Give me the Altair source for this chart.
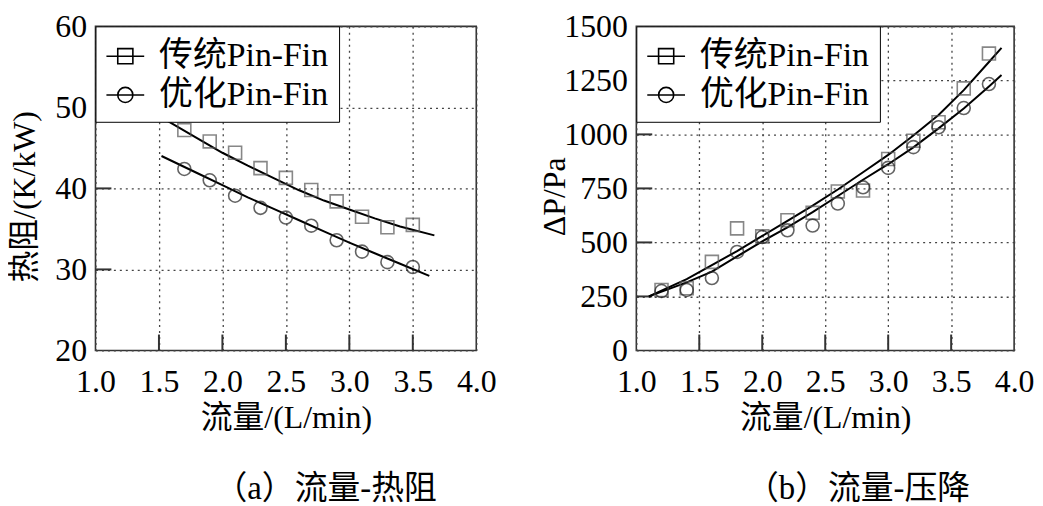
import altair as alt
import pandas as pd

SERIES = ["传统Pin-Fin", "优化Pin-Fin"]

# ---- panel (a): flow vs thermal resistance ----
a_x = [1.7, 1.9, 2.1, 2.3, 2.5, 2.7, 2.9, 3.1, 3.3, 3.5]
a_trad = [47.2, 45.8, 44.4, 42.5, 41.3, 39.8, 38.4, 36.5, 35.2, 35.5]
a_opt = [42.4, 41.0, 39.1, 37.6, 36.4, 35.4, 33.6, 32.2, 30.9, 30.3]
a_fit_x_trad = [1.56, 1.8, 2.0, 2.2, 2.4, 2.6, 2.8, 3.0, 3.2, 3.4, 3.67]
a_fit_trad = [48.4, 46.2, 44.4, 42.8, 41.3, 39.8, 38.5, 37.4, 36.3, 35.3, 34.2]
a_fit_x_opt = [1.52, 1.8, 2.0, 2.2, 2.4, 2.6, 2.8, 3.0, 3.2, 3.4, 3.63]
a_fit_opt = [44.0, 41.9, 40.4, 38.9, 37.5, 36.1, 34.7, 33.3, 32.0, 30.7, 29.2]
a_yticks = [20, 30, 40, 50, 60]

# ---- panel (b): flow vs pressure drop ----
b_x = [1.2, 1.4, 1.6, 1.8, 2.0, 2.2, 2.4, 2.6, 2.8, 3.0, 3.2, 3.4, 3.6, 3.8]
b_trad = [280, 288, 410, 565, 528, 603, 637, 736, 740, 886, 971, 1056, 1213, 1374]
b_opt = [275, 280, 335, 456, 525, 556, 578, 680, 755, 845, 941, 1033, 1122, 1233]
b_fit_x = [1.1, 1.4, 1.6, 1.8, 2.0, 2.2, 2.4, 2.6, 2.8, 3.0, 3.2, 3.4, 3.6, 3.8, 3.9]
b_fit_trad = [250, 330, 395, 460, 530, 600, 670, 745, 825, 905, 995, 1090, 1205, 1335, 1400]
b_fit_opt = [250, 315, 365, 435, 505, 570, 640, 715, 790, 862, 940, 1028, 1120, 1222, 1275]
b_yticks = [0, 250, 500, 750, 1000, 1250, 1500]

x_ticks = [1.0, 1.5, 2.0, 2.5, 3.0, 3.5, 4.0]
inner_x_ticks = [1.5, 2.0, 2.5, 3.0, 3.5]

SERIF = "Liberation Serif, Noto Sans CJK SC"
PATH_SQ = "M-1,0H1M-0.4,-0.4H0.4V0.4H-0.4Z"
PATH_CI = "M-1,0H1M0.4,0A0.4,0.4 0 1,1 -0.4,0A0.4,0.4 0 1,1 0.4,0Z"


def panel(xs, trad, opt, fx_t, ft, fx_o, fo, ydom, yticks, yfmt, ytitle,
          caption, w, h, title_x, cap_dx):
    pts = pd.DataFrame({
        "x": xs + xs,
        "y": trad + opt,
        "s": [SERIES[0]] * len(xs) + [SERIES[1]] * len(xs),
    })
    fit = pd.DataFrame({
        "x": fx_t + fx_o,
        "y": ft + fo,
        "s": [SERIES[0]] * len(fx_t) + [SERIES[1]] * len(fx_o),
    })
    fit["ls"] = fit["s"]
    ytk = pd.DataFrame({"v": yticks[1:-1]})
    xtk = pd.DataFrame({"v": inner_x_ticks})

    xscale = alt.Scale(domain=[1, 4], nice=False, zero=False)
    yscale = alt.Scale(domain=ydom, nice=False, zero=False)
    xaxis = alt.Axis(values=x_ticks, format=".1f", title="流量/(L/min)",
                     grid=True, gridDash=[2, 4], gridColor="#444", gridWidth=1.3,
                     ticks=False, domain=False, labelFont="Liberation Serif",
                     labelFontSize=32, labelColor="black", labelPadding=16,
                     labelFlush=False, labelOverlap=False,
                     titleFont=SERIF, titleFontSize=32, titleFontWeight="normal",
                     titleColor="black", titlePadding=5)
    yaxis = alt.Axis(values=yticks, format=yfmt, title=ytitle,
                     grid=True, gridDash=[2, 4], gridColor="#444", gridWidth=1.3,
                     ticks=False, domain=False, labelFont="Liberation Serif",
                     labelFontSize=32, labelColor="black", labelPadding=9,
                     labelFlush=False, labelOverlap=False,
                     titleFont=SERIF, titleFontSize=32, titleFontWeight="normal",
                     titleColor="black", titleAngle=270, titleX=title_x,
                     titleY=h / 2 + 8, titleAlign="center", titleBaseline="middle")

    X = alt.X("x:Q", scale=xscale, axis=xaxis)
    Y = alt.Y("y:Q", scale=yscale, axis=yaxis)

    yt = alt.Chart(ytk).mark_rule(color="#333", strokeWidth=2).encode(
        y=alt.Y("v:Q", scale=yscale, axis=yaxis), x=alt.value(0), x2=alt.value(16))
    xt = alt.Chart(xtk).mark_rule(color="#333", strokeWidth=2).encode(
        x=alt.X("v:Q", scale=xscale, axis=xaxis), y=alt.value(h), y2=alt.value(h - 16))

    lines = alt.Chart(fit).mark_line(color="black", strokeWidth=2).encode(
        x=X, y=Y, detail="s:N")
    points = alt.Chart(pts).mark_point(filled=False, size=170, strokeWidth=1.6).encode(
        x=X, y=Y,
        shape=alt.Shape("s:N", scale=alt.Scale(domain=SERIES, range=["square", "circle"]),
                        legend=None),
        stroke=alt.Stroke("s:N", scale=alt.Scale(domain=SERIES, range=["#555", "#222"]),
                          legend=None),
    )
    leg = alt.Chart(fit).mark_point(opacity=0).encode(
        x=X, y=Y,
        shape=alt.Shape("ls:N", scale=alt.Scale(domain=SERIES, range=[PATH_SQ, PATH_CI]),
                        legend=alt.Legend(title=None, orient="top-left", offset=0,
                                          padding=10, strokeColor="black",
                                          fillColor="white", cornerRadius=0,
                                          labelFont=SERIF, labelFontSize=34,
                                          labelColor="black", labelOffset=14,
                                          labelLimit=0, symbolSize=1444,
                                          symbolStrokeWidth=1.6,
                                          symbolStrokeColor="black",
                                          symbolFillColor="transparent",
                                          symbolOpacity=1, rowPadding=2)),
    )
    return alt.layer(yt, xt, lines, points, leg).resolve_scale(
        shape="independent", stroke="independent"
    ).properties(
        width=w, height=h,
        title=alt.TitleParams(text=caption, orient="bottom", anchor="middle",
                              font=SERIF, fontSize=33, fontWeight="normal",
                              color="black", offset=40, dx=cap_dx),
    )


left = panel(a_x, a_trad, a_opt, a_fit_x_trad, a_fit_trad, a_fit_x_opt, a_fit_opt,
             [20, 60], a_yticks, "d", "热阻/(K/kW)", "（a）流量-热阻",
             383, 326, -71, 40)
right = panel(b_x, b_trad, b_opt, b_fit_x, b_fit_trad, b_fit_x, b_fit_opt,
              [0, 1500], b_yticks, "d", "ΔP/Pa", "（b）流量-压降",
              380, 326, -82, 33)

chart = alt.hconcat(left, right, spacing=41).resolve_scale(
    x="independent", y="independent", shape="independent", stroke="independent"
).resolve_legend(shape="independent").properties(
    padding={"left": 0, "top": 0, "right": 0, "bottom": 0}
).configure_view(stroke="#333", strokeWidth=1.6)

chart.save("out.html", embed_options={"renderer": "svg", "actions": False})
